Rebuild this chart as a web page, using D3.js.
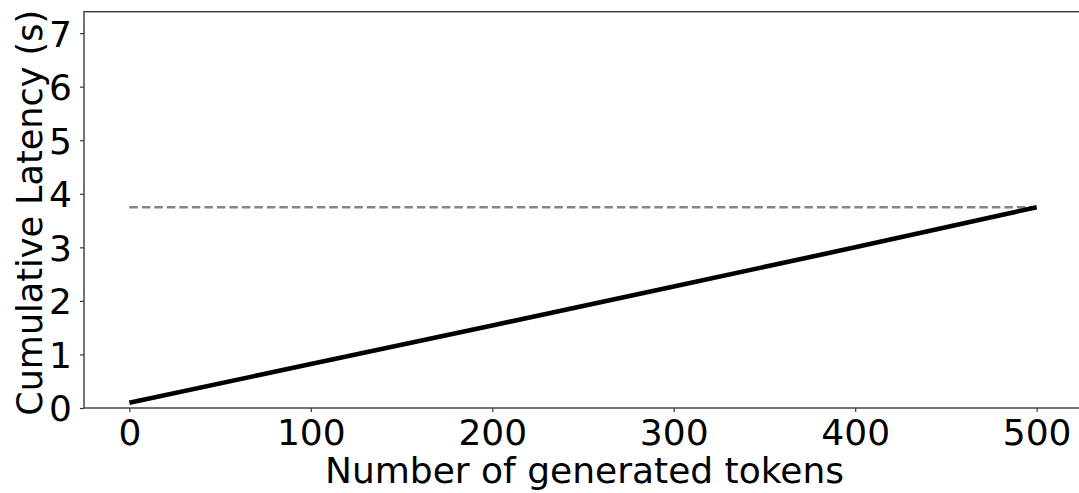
<!DOCTYPE html>
<html>
<head>
<meta charset="utf-8">
<script src="https://cdn.jsdelivr.net/npm/d3@7"></script>
<style>
  html, body { margin: 0; padding: 0; background: #fff; }
  svg { display: block; }
  text { font-family: "DejaVu Sans", sans-serif; fill: #000; }
</style>
</head>
<body>
<svg id="chart" width="1079" height="493"></svg>
<script>
// Cumulative decoding latency per generated token
const tokens  = [0, 100, 200, 300, 400, 500];
const latency = [0.10, 0.82, 1.54, 2.27, 3.00, 3.75];
const totalLatency = 3.75;            // reference level drawn dashed
const xTicks = [0, 100, 200, 300, 400, 500];
const yTicks = [0, 1, 2, 3, 4, 5, 6, 7];
const xDomain = [-25, 525];
const yDomain = [0, 7.4];

const svg = d3.select("#chart");
const plot = { left: 84, right: 1082, top: 11.7, bottom: 408 };

const x = d3.scaleLinear().domain(xDomain).range([plot.left, plot.right]);
const y = d3.scaleLinear().domain(yDomain).range([plot.bottom, plot.top]);

// frame
svg.append("rect")
  .attr("x", plot.left).attr("y", plot.top)
  .attr("width", plot.right - plot.left).attr("height", plot.bottom - plot.top)
  .attr("fill", "none").attr("stroke", "#3a3a3a").attr("stroke-width", 1.4);

// axes
const xAxis = svg.append("g")
  .attr("transform", `translate(0,${plot.bottom})`)
  .call(d3.axisBottom(x).tickValues(xTicks).tickSize(4).tickPadding(8).tickFormat(d3.format("d")));
const yAxis = svg.append("g")
  .attr("transform", `translate(${plot.left},0)`)
  .call(d3.axisLeft(y).tickValues(yTicks).tickSize(4).tickPadding(8).tickFormat(d3.format("d")));

[xAxis, yAxis].forEach(g => {
  g.select(".domain").remove();
  g.selectAll(".tick line").attr("stroke", "#3a3a3a").attr("stroke-width", 1.2);
  g.selectAll(".tick text")
    .attr("font-family", "DejaVu Sans, sans-serif")
    .attr("font-size", 36).attr("fill", "#000");
});
xAxis.selectAll(".tick text").attr("dy", null).attr("y", 37);
yAxis.selectAll(".tick text").attr("dy", "0.36em");

// dashed total-latency reference
svg.append("line")
  .attr("x1", x(tokens[0])).attr("x2", x(tokens[tokens.length - 1]))
  .attr("y1", y(totalLatency)).attr("y2", y(totalLatency))
  .attr("stroke", "#858585").attr("stroke-width", 2.5)
  .attr("stroke-dasharray", "8.5,4");

// cumulative latency curve
const line = d3.line().x((d, i) => x(tokens[i])).y(d => y(d));
svg.append("path")
  .datum(latency)
  .attr("d", line)
  .attr("fill", "none").attr("stroke", "#000")
  .attr("stroke-width", 4.6).attr("stroke-linecap", "butt");

// axis titles
svg.append("text")
  .attr("x", (plot.left + plot.right) / 2 + 1.5).attr("y", 483)
  .attr("text-anchor", "middle").attr("font-size", 36)
  .text("Number of generated tokens");
svg.append("text")
  .attr("transform", `translate(41.5,${(plot.top + plot.bottom) / 2 + 3}) rotate(-90)`)
  .attr("text-anchor", "middle").attr("font-size", 35)
  .text("Cumulative Latency (s)");
</script>
</body>
</html>
